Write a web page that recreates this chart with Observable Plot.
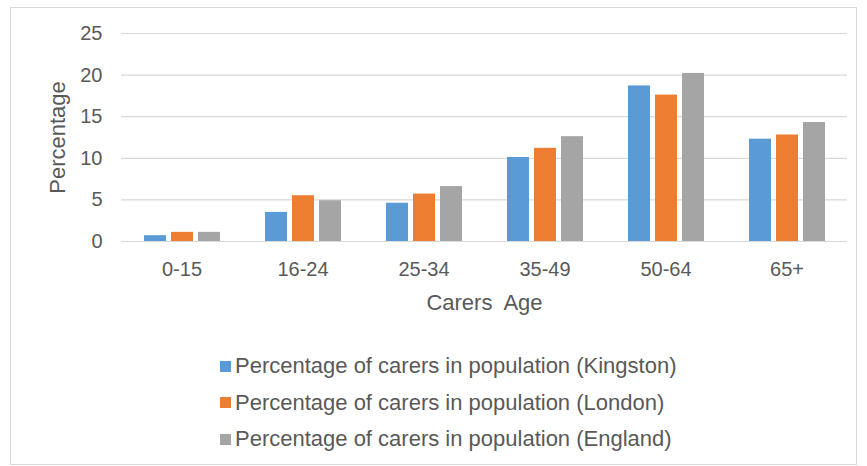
<!DOCTYPE html>
<html>
<head>
<meta charset="utf-8">
<script src="https://cdn.jsdelivr.net/npm/d3@7"></script>
<script src="https://cdn.jsdelivr.net/npm/@observablehq/plot@0.6"></script>
<style>
  html, body { margin: 0; padding: 0; background: #fff; }
  body { width: 867px; height: 466px; position: relative; overflow: hidden; font-family: "Liberation Sans", Arial, sans-serif; }
  #frame { position: absolute; left: 10px; top: 7px; width: 845px; height: 456px; border: 1px solid #D9D9D9; }
  #chart { position: absolute; left: 0; top: 0; }
  #legend { position: absolute; left: 209px; top: 340px; color: #595959; font-size: 22px; }
  .row { display: flex; align-items: center; height: 36.5px; white-space: nowrap; }
  .sw { width: 11px; height: 11px; margin-right: 4px; flex: none; }
</style>
</head>
<body>
<div id="frame">
  <div id="chart"></div>
  <div id="legend"></div>
</div>
<script>
const ages = ["0-15", "16-24", "25-34", "35-49", "50-64", "65+"];
const seriesNames = [
  "Percentage of carers in population (Kingston)",
  "Percentage of carers in population (London)",
  "Percentage of carers in population (England)"
];
const kingston = [0.7, 3.5, 4.6, 10.1, 18.7, 12.3];
const london   = [1.1, 5.5, 5.7, 11.2, 17.6, 12.8];
const england  = [1.1, 4.9, 6.6, 12.6, 20.2, 14.3];
const yTicks = [0, 5, 10, 15, 20, 25];
const colors = ["#5B9BD5", "#ED7D31", "#A5A5A5"];

const seriesValues = [kingston, london, england];
const data = [];
seriesNames.forEach((s, i) => ages.forEach((a, j) => data.push({age: a, series: s, value: seriesValues[i][j]})));

const chart = Plot.plot({
  width: 845,
  height: 320,
  marginLeft: 108,
  marginRight: 8,
  marginTop: 25,
  marginBottom: 87,
  style: {fontFamily: "'Liberation Sans', Arial, sans-serif", color: "#595959", background: "transparent", overflow: "visible"},
  fx: {domain: ages, padding: 0},
  x: {domain: seriesNames, paddingInner: 0.2, paddingOuter: 0.81, axis: null},
  y: {domain: [0, 25], axis: null},
  color: {domain: seriesNames, range: colors},
  marks: [
    Plot.gridY(yTicks.filter(d => d > 0), {stroke: "#D9D9D9", strokeOpacity: 1, strokeWidth: 1.2}),
    Plot.ruleY([0], {stroke: "#D9D9D9", strokeWidth: 1.2}),
    Plot.barY(data, {fx: "age", x: "series", y: "value", fill: "series"}),
    Plot.axisY(yTicks, {tickSize: 0, tickPadding: 19, fontSize: 20, label: null}),
    Plot.axisY([], {tickSize: 0, label: "Percentage", labelArrow: "none", labelAnchor: "center", labelOffset: 72, fontSize: 22}),
    Plot.axisFx({anchor: "bottom", tickSize: 0, tickPadding: 20, fontSize: 20, label: null}),
    Plot.axisFx([], {anchor: "bottom", tickSize: 0, label: "Carers  Age", labelArrow: "none", labelAnchor: "center", labelOffset: 68, fontSize: 22})
  ]
});
document.getElementById("chart").appendChild(chart);

const legend = document.getElementById("legend");
seriesNames.forEach((s, i) => {
  const row = document.createElement("div");
  row.className = "row";
  const sw = document.createElement("span");
  sw.className = "sw";
  sw.style.background = colors[i];
  const t = document.createElement("span");
  t.textContent = s;
  row.appendChild(sw);
  row.appendChild(t);
  legend.appendChild(row);
});
</script>
</body>
</html>
